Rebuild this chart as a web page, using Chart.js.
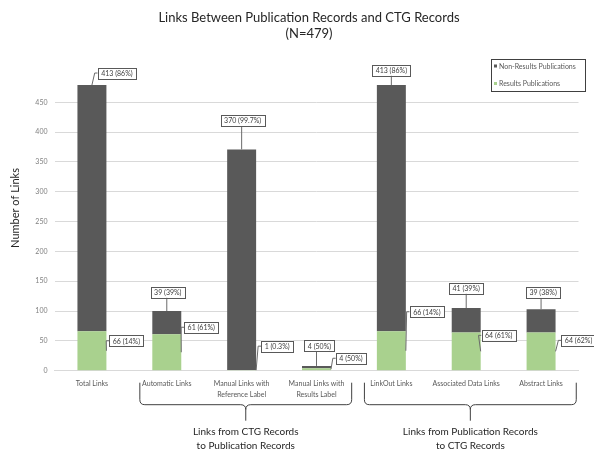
<!DOCTYPE html>
<html>
<head>
<meta charset="utf-8">
<script src="https://cdn.jsdelivr.net/npm/chart.js@4"></script>
<style>
  html, body { margin: 0; padding: 0; background: #ffffff; }
  #wrap { width: 594px; height: 453px; }
</style>
</head>
<body>
<div id="wrap"><canvas id="c" width="594" height="453"></canvas></div>
<script>
// ---- data ----
const categories = [
  ['Total Links'],
  ['Automatic Links'],
  ['Manual Links with', 'Reference Label'],
  ['Manual Links with', 'Results Label'],
  ['LinkOut Links'],
  ['Associated Data Links'],
  ['Abstract Links']
];
const resultsPubs    = [66, 61, 1, 4, 66, 64, 64];
const nonResultsPubs = [413, 39, 370, 4, 413, 41, 39];
const resultsLabels    = ['66 (14%)', '61 (61%)', '1 (0.3%)', '4 (50%)', '66 (14%)', '64 (61%)', '64 (62%)'];
const nonResultsLabels = ['413 (86%)', '39 (39%)', '370 (99.7%)', '4 (50%)', '413 (86%)', '41 (39%)', '39 (38%)'];
const seriesNames = ['Results Publications', 'Non-Results Publications'];
const yTickStep = 50;
const yMax = 500;
const groupLabels = [
  ['Links from CTG Records', 'to Publication Records'],
  ['Links from Publication Records', 'to CTG Records']
];
const groupRanges = [[1, 3], [4, 6]];
const chartTitle = ['Links Between Publication Records and CTG Records', '(N=479)'];
const yTitle = 'Number of Links';

// ---- styling / layout (not data) ----
const GREEN = '#A9D18E';
const DARK = '#595959';
const FONT = 'Lato, "Open Sans", sans-serif';
// callout box offsets (px) from their anchor point
const nonResultsCallout = [[25, -12], [1, -19], [1, -29], [3, -20], [0, -15], [0, -20], [2, -17]];
const resultsCallout    = [[20, -10], [20, -25], [21, -24], [20, -11], [21, -39], [18, -16], [23, -11]];

function drawCallout(ctx, ax, ay, off, text) {
  ctx.save();
  ctx.font = '7px ' + FONT;
  const tw = ctx.measureText(text).width;
  const w = tw + 7, h = 11;
  const cx = ax + off[0], cy = ay + off[1];
  const left = cx - w / 2, top = cy - h / 2;
  ctx.strokeStyle = '#6b6b6b';
  ctx.lineWidth = 1;
  ctx.beginPath();
  if (Math.abs(off[0]) < w / 2) {
    ctx.moveTo(ax, ay);
    ctx.lineTo(ax, top + h);
  } else {
    ctx.moveTo(ax, ay);
    ctx.lineTo(left - 3, cy);
    ctx.lineTo(left, cy);
  }
  ctx.stroke();
  ctx.fillStyle = '#ffffff';
  ctx.fillRect(left, top, w, h);
  ctx.strokeStyle = '#595959';
  ctx.strokeRect(Math.round(left) + 0.5, Math.round(top) + 0.5, Math.round(w), h);
  ctx.fillStyle = '#404040';
  ctx.textAlign = 'center';
  ctx.textBaseline = 'middle';
  ctx.fillText(text, cx, cy + 0.5);
  ctx.restore();
}

function drawBrace(ctx, x1, x2, yTop, yLine, yTip) {
  const mid = (x1 + x2) / 2;
  const r = 5;
  ctx.beginPath();
  ctx.moveTo(x1, yTop);
  ctx.lineTo(x1, yLine - r);
  ctx.quadraticCurveTo(x1, yLine, x1 + r, yLine);
  ctx.lineTo(mid - r, yLine);
  ctx.quadraticCurveTo(mid, yLine, mid, yLine + r);
  ctx.lineTo(mid, yTip);
  ctx.moveTo(mid, yLine + r);
  ctx.quadraticCurveTo(mid, yLine, mid + r, yLine);
  ctx.lineTo(x2 - r, yLine);
  ctx.quadraticCurveTo(x2, yLine, x2, yLine - r);
  ctx.lineTo(x2, yTop);
  ctx.stroke();
}

const decorPlugin = {
  id: 'decor',
  afterDatasetsDraw(chart) {
    const ctx = chart.ctx;
    const metaR = chart.getDatasetMeta(0);
    const metaN = chart.getDatasetMeta(1);
    metaN.data.forEach((bar, i) => {
      drawCallout(ctx, bar.x, bar.y, nonResultsCallout[i], nonResultsLabels[i]);
    });
    metaR.data.forEach((bar, i) => {
      drawCallout(ctx, bar.x + bar.width / 2, (bar.y + bar.base) / 2, resultsCallout[i], resultsLabels[i]);
    });
  },
  afterDraw(chart) {
    const ctx = chart.ctx;
    const xs = chart.scales.x;
    const area = chart.chartArea;
    ctx.save();
    // title
    ctx.fillStyle = '#262626';
    ctx.font = '13px ' + FONT;
    ctx.textAlign = 'center';
    ctx.textBaseline = 'middle';
    ctx.fillText(chartTitle[0], 309, 18);
    ctx.fillText(chartTitle[1], 309, 34);
    // y title
    ctx.save();
    ctx.translate(15, 208);
    ctx.rotate(-Math.PI / 2);
    ctx.font = '11px ' + FONT;
    ctx.fillStyle = '#262626';
    ctx.fillText(yTitle, 0, 0);
    ctx.restore();
    // legend
    ctx.strokeStyle = '#404040';
    ctx.lineWidth = 1;
    ctx.strokeRect(491.5, 59.5, 94, 32);
    ctx.font = '7px ' + FONT;
    ctx.textAlign = 'left';
    ctx.fillStyle = DARK;
    ctx.fillRect(494, 64.5, 3, 3);
    ctx.fillStyle = GREEN;
    ctx.fillRect(494, 82, 3, 3);
    ctx.fillStyle = '#595959';
    ctx.fillText(seriesNames[1], 499, 66.5);
    ctx.fillText(seriesNames[0], 499, 83.5);
    // braces + group labels
    ctx.strokeStyle = '#404040';
    ctx.lineWidth = 1;
    const step = xs.getPixelForValue(1) - xs.getPixelForValue(0);
    groupRanges.forEach((rg, gi) => {
      const x1 = xs.getPixelForValue(rg[0]) - step * 0.36;
      const x2 = xs.getPixelForValue(rg[1]) + step * 0.47;
      drawBrace(ctx, x1, x2, area.bottom + 12, area.bottom + 34, area.bottom + 50);
      const mid = (x1 + x2) / 2;
      ctx.font = '10px ' + FONT;
      ctx.fillStyle = '#262626';
      ctx.textAlign = 'center';
      ctx.fillText(groupLabels[gi][0], mid, area.bottom + 61);
      ctx.fillText(groupLabels[gi][1], mid, area.bottom + 75);
    });
    ctx.restore();
  }
};

new Chart(document.getElementById('c'), {
  type: 'bar',
  data: {
    labels: categories,
    datasets: [
      { label: seriesNames[0], data: resultsPubs, backgroundColor: GREEN, stack: 's' },
      { label: seriesNames[1], data: nonResultsPubs, backgroundColor: DARK, stack: 's' }
    ]
  },
  options: {
    responsive: false,
    animation: false,
    devicePixelRatio: 1,
    layout: { padding: { left: 0, right: 15.5, top: 72.5, bottom: 52.3 } },
    datasets: { bar: { categoryPercentage: 1.0, barPercentage: 0.387 } },
    plugins: {
      legend: { display: false },
      title: { display: false },
      tooltip: { enabled: false }
    },
    scales: {
      x: {
        stacked: true,
        grid: { display: false },
        border: { display: true, color: '#D9D9D9' },
        ticks: {
          color: '#595959',
          font: { family: FONT, size: 7, lineHeight: 1.5 },
          padding: 0,
          maxRotation: 0,
          autoSkip: false
        },
        afterFit(scale) { scale.height = 30; }
      },
      y: {
        stacked: true,
        min: 0,
        max: yMax,
        grid: {
          color: (c) => (c.tick && c.tick.value >= yMax) ? 'rgba(0,0,0,0)' : '#D9D9D9',
          drawTicks: false
        },
        border: { display: false },
        ticks: {
          stepSize: yTickStep,
          color: '#7f7f7f',
          font: { family: FONT, size: 7 },
          padding: 7,
          callback: (v) => (v >= yMax ? '' : v)
        },
        afterFit(scale) { scale.width = 54.5; }
      }
    }
  },
  plugins: [decorPlugin]
});
</script>
</body>
</html>
